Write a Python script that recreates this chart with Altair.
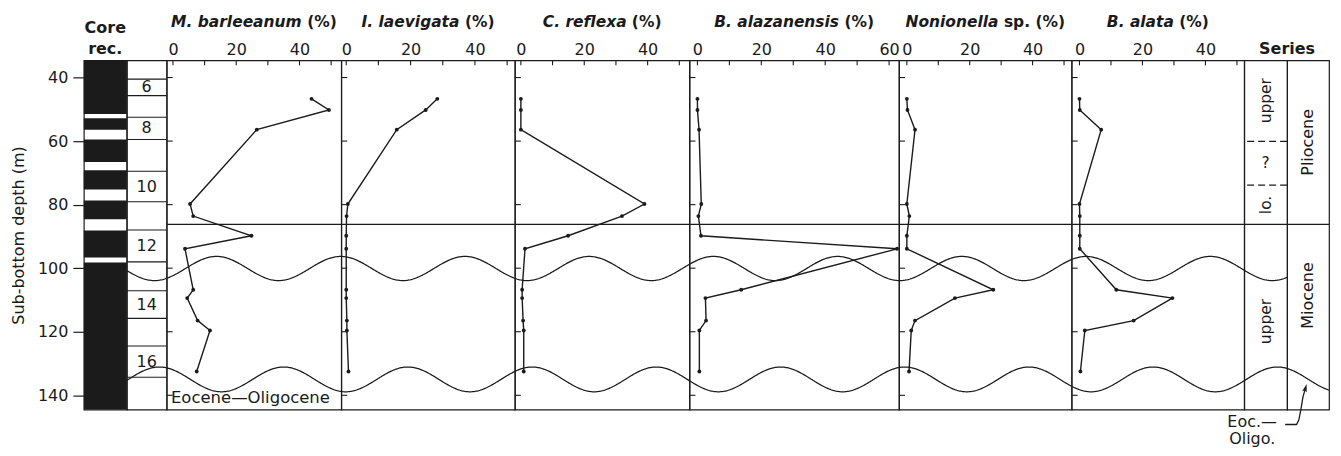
import altair as alt
import numpy as np
import pandas as pd

# ---------------- data ----------------
sample_depth = [46.7, 50.2, 56.4, 79.8, 83.6, 89.8, 93.9, 106.8, 109.4, 116.5, 119.6, 132.5]
m_barleeanum = [43.8, 49.3, 26.5, 5.4, 6.4, 24.8, 3.8, 6.4, 4.5, 7.8, 11.7, 7.5]
i_laevigata = [28.3, 24.7, 15.7, 0.5, 0.1, 0.0, 0.0, 0.0, 0.0, 0.2, 0.2, 0.7]
c_reflexa = [0.0, 0.0, 0.0, 39.0, 31.9, 14.9, 1.3, 0.4, 0.4, 0.7, 0.9, 0.9]
b_alazanensis = [0.0, 0.0, 0.5, 1.2, 0.3, 1.1, 62.5, 13.7, 2.5, 2.7, 0.6, 0.6]
nonionella = [0.0, 0.2, 2.6, 0.0, 0.8, 0.0, 0.0, 27.5, 15.3, 2.6, 1.4, 0.7]
b_alata = [0.0, 0.1, 6.9, 0.0, 0.1, 0.1, 0.1, 11.7, 29.5, 17.2, 1.7, 0.3]

core_rec_top = [34.6, 52.8, 59.5, 69.2, 78.7, 88.1, 98.2]
core_rec_bottom = [51.5, 56.4, 66.6, 75.2, 84.6, 96.6, 144.5]
core_boundaries = [40.5, 45.7, 52.5, 59.5, 69.5, 79.1, 88.0, 98.0, 107.1, 115.8, 124.5, 134.3]
core_numbers = ["6", "8", "10", "12", "14", "16"]
core_number_depth = [43.1, 56.0, 74.3, 93.0, 111.45, 129.4]

depth_ticks = [40, 60, 80, 100, 120, 140]
boundary_depth = [86.2]
dashed_depths = [60.06, 73.85]
sub_series_rot = ["upper", "lo.", "upper"]
sub_series_rot_depth = [47.3, 80.1, 116.8]
sub_series_up = ["?"]
sub_series_up_depth = [67.0]
series_main = ["Pliocene", "Miocene"]
series_main_depth = [60.4, 108.6]
eocene_label_depth = [142.5]
arrow_x = [-0.047, 0.226, 0.279, 0.326, 0.379, 0.435]
arrow_depth = [149.2, 149.2, 147.8, 144.7, 140.5, 137.9]

species = [
    ("M. barleeanum", "(%)", m_barleeanum, [-2.0, 53.2], 175, 50, [0, 20, 40]),
    ("I. laevigata", "(%)", i_laevigata, [-1.55, 52.4], 174, 50, [0, 20, 40]),
    ("C. reflexa", "(%)", c_reflexa, [-1.9, 53.2], 175, 50, [0, 20, 40]),
    ("B. alazanensis", "(%)", b_alazanensis, [-2.5, 63.1], 210, 60, [0, 20, 40, 60]),
    ("Nonionella", "sp. (%)", nonionella, [-2.5, 52.4], 173, 50, [0, 20, 40]),
    ("B. alata", "(%)", b_alata, [-2.5, 52.3], 173, 50, [0, 20, 40]),
]

# ---------------- style / layout ----------------
FONT = "DejaVu Sans"
INK = "#1b1b1b"
H = 350
W_CORE, W_NUM, W_S1, W_S2 = 43, 40, 43, 42
yscale = alt.Scale(domain=[34.6, 144.5], reverse=True, nice=False, zero=False)
unit_scale = alt.Scale(domain=[0, 1], nice=False, zero=False)

BOLD_W = {' ': 0.348, '.': 0.380, '(': 0.457, ')': 0.457, '%': 1.002, 'B': 0.762,
          'C': 0.734, 'I': 0.372, 'M': 0.995, 'N': 0.837, 'a': 0.675, 'b': 0.716,
          'e': 0.678, 'f': 0.435, 'g': 0.716, 'i': 0.343, 'l': 0.343, 'm': 1.042,
          'n': 0.712, 'o': 0.687, 'p': 0.716, 'r': 0.493, 's': 0.595, 't': 0.478,
          'u': 0.712, 'v': 0.652, 'x': 0.645, 'z': 0.582}


def twidth(s, fs):
    return sum(BOLD_W.get(c, 0.65) for c in s) * fs


# global left edge (in reference pixel frame) of each column, for continuous unconformity waves
G_CORE = 84
G_NUM = G_CORE + W_CORE
g = G_NUM + W_NUM
P_LEFT = []
for sp in species:
    P_LEFT.append(g)
    g += sp[4]
G_S1 = g
G_S2 = g + W_S1


def wave_df(left, width, x0, x1, kinds):
    rows = []
    n = int(round(width)) + 1
    for kind in kinds:
        for k, gx in enumerate(np.linspace(left, left + width, n)):
            if kind == "upper":
                d = 100.1 - 3.8 * np.cos(2 * np.pi * (gx - 217) / 124.5)
            else:
                d = 135.0 + 3.9 * np.cos(2 * np.pi * (gx - 222) / 124.5)
            rows.append({"x": x0 + (gx - left) / width * (x1 - x0), "y": d, "w": kind, "o": k})
    return pd.DataFrame(rows)


def waves(df, X, Y):
    return alt.Chart(df).mark_line(color=INK, strokeWidth=1.25).encode(
        x=X, y=Y, detail="w:N", order="o:Q")


def txt(s, x, y, **kw):
    base = dict(font=FONT, color=INK, baseline="alphabetic", align="center", fontSize=15)
    base.update(kw)
    return alt.Chart(pd.DataFrame({"t": [s]})).mark_text(**base).encode(
        text="t:N", x=alt.value(x), y=alt.value(y))


def hline(Y):
    return alt.Chart(pd.DataFrame({"y": boundary_depth})).mark_rule(
        color=INK, strokeWidth=1.2).encode(y=Y)


# ---------------- core recovery column ----------------
Xu = alt.X("x:Q", scale=unit_scale, axis=None)
Yc = alt.Y("y:Q", scale=yscale, axis=alt.Axis(
    values=depth_ticks, tickSize=11, tickColor=INK, tickWidth=1.2, domain=False, grid=False,
    labelPadding=5, labelFont=FONT, labelFontSize=16, labelColor=INK,
    title="Sub-bottom depth (m)", titleFont=FONT, titleFontSize=16, titleFontWeight="normal",
    titleColor=INK, titlePadding=11))
core_df = pd.DataFrame({"x": [0] * len(core_rec_top), "x2": [1] * len(core_rec_top),
                        "y": core_rec_top, "y2": core_rec_bottom})
core_panel = alt.layer(
    alt.Chart(core_df).mark_rect(color=INK).encode(x=Xu, x2=alt.X2("x2"), y=Yc, y2=alt.Y2("y2")),
    txt("Core", W_CORE / 2, -27.5, fontWeight="bold", fontSize=16),
    txt("rec.", W_CORE / 2, -6, fontWeight="bold", fontSize=16),
).properties(width=W_CORE, height=H)

# ---------------- core number column ----------------
Yu = alt.Y("y:Q", scale=yscale, axis=None)
num_panel = alt.layer(
    alt.Chart(pd.DataFrame({"y": core_boundaries})).mark_rule(color=INK, strokeWidth=1.1).encode(y=Yu),
    alt.Chart(pd.DataFrame({"y": core_number_depth, "t": core_numbers})).mark_text(
        font=FONT, fontSize=16, color=INK, baseline="middle", align="center").encode(
        y=Yu, text="t:N", x=alt.value(W_NUM / 2)),
    waves(wave_df(G_NUM, W_NUM, 0, 1, ["upper", "lower"]), Xu, Yu),
).properties(width=W_NUM, height=H)


# ---------------- species panels ----------------
def species_panel(idx):
    name, suffix, vals, dom, W, tmax, lvals = species[idx]
    xs = alt.Scale(domain=dom, nice=False, zero=False)
    X = alt.X("x:Q", scale=xs, axis=alt.Axis(
        orient="top", values=lvals, ticks=False, tickSize=0, domain=False, grid=False,
        labelPadding=3, labelFont=FONT, labelFontSize=16, labelColor=INK, labelFlush=False,
        labelOverlap=False, labelAngle=0, title=None))
    Y = alt.Y("y:Q", scale=yscale, axis=None)
    df = pd.DataFrame({"x": vals, "y": sample_depth, "o": list(range(len(vals)))})
    top_ticks = pd.DataFrame({"x": list(range(0, tmax + 1, 10))})
    left_ticks = pd.DataFrame({"y": depth_ticks})
    fs = 15.5
    w1 = twidth(name, fs)
    ws = BOLD_W[" "] * fs
    w2 = twidth(suffix, fs)
    start = W / 2 - (w1 + ws + w2) / 2
    layers = [
        waves(wave_df(P_LEFT[idx], W, dom[0], dom[1], ["upper", "lower"]), X, Y),
        hline(Y),
        alt.Chart(top_ticks).mark_rule(color=INK, strokeWidth=1.1).encode(
            x=X, y=alt.value(0), y2=alt.value(5)),
        alt.Chart(left_ticks).mark_rule(color=INK, strokeWidth=1.1).encode(
            y=Y, x=alt.value(0), x2=alt.value(6)),
        alt.Chart(df).mark_line(color=INK, strokeWidth=1.4).encode(x=X, y=Y, order="o:Q"),
        alt.Chart(df).mark_circle(color=INK, size=15, opacity=1).encode(x=X, y=Y),
        txt(name, start, -33, fontWeight="bold", fontStyle="italic", align="left", fontSize=fs),
        txt(suffix, start + w1 + ws, -33, fontWeight="bold", align="left", fontSize=fs),
    ]
    if idx == 0:
        layers.append(alt.Chart(pd.DataFrame({"y": eocene_label_depth, "t": ["Eocene—Oligocene"]}))
                      .mark_text(font=FONT, fontSize=16.5, color=INK, baseline="alphabetic",
                                 align="center").encode(y=Y, text="t:N", x=alt.value(84)))
    return alt.layer(*layers).properties(width=W, height=H)


sp_panels = [species_panel(i) for i in range(len(species))]

# ---------------- series columns ----------------
s1_panel = alt.layer(
    waves(wave_df(G_S1, W_S1, 0, 1, ["upper", "lower"]), Xu, Yu),
    hline(Yu),
    alt.Chart(pd.DataFrame({"y": dashed_depths})).mark_rule(
        color=INK, strokeWidth=1.3, strokeDash=[7, 4]).encode(y=Yu),
    alt.Chart(pd.DataFrame({"y": sub_series_rot_depth, "t": sub_series_rot})).mark_text(
        font=FONT, fontSize=15.5, color=INK, angle=270, baseline="middle", align="center").encode(
        y=Yu, text="t:N", x=alt.value(W_S1 / 2)),
    alt.Chart(pd.DataFrame({"y": sub_series_up_depth, "t": sub_series_up})).mark_text(
        font=FONT, fontSize=15.5, color=INK, baseline="middle", align="center").encode(
        y=Yu, text="t:N", x=alt.value(W_S1 / 2)),
    txt("Series", W_S1, -6, fontWeight="bold", fontSize=16),
    txt("Eoc.—", 8, H + 17, fontSize=16),
    txt("Oligo.", 8, H + 34, fontSize=16),
).properties(width=W_S1, height=H)

arrow_df = pd.DataFrame({"x": arrow_x, "y": arrow_depth, "o": list(range(len(arrow_x)))})
s2_panel = alt.layer(
    waves(wave_df(G_S2, W_S2, 0, 1, ["lower"]), Xu, Yu),
    hline(Yu),
    alt.Chart(pd.DataFrame({"y": series_main_depth, "t": series_main})).mark_text(
        font=FONT, fontSize=16, color=INK, angle=270, baseline="middle", align="center").encode(
        y=Yu, text="t:N", x=alt.value(W_S2 / 2)),
    alt.Chart(arrow_df).mark_line(color=INK, strokeWidth=1.3).encode(x=Xu, y=Yu, order="o:Q"),
    alt.Chart(arrow_df.tail(1)).mark_point(
        shape="M0,-1L0.5,0.7L0,0.35L-0.5,0.7Z", filled=True, size=90, color=INK, opacity=1,
        angle=16).encode(x=Xu, y=Yu),
).properties(width=W_S2, height=H)

chart = alt.hconcat(
    core_panel, num_panel, *sp_panels, s1_panel, s2_panel, spacing=0, bounds="flush"
).properties(
    padding={"left": 1, "top": 6, "right": 0, "bottom": 0},
    background="white",
).configure_view(
    stroke=INK, strokeWidth=1.2
)

chart.save("out.html", embed_options={"renderer": "svg", "actions": False})
